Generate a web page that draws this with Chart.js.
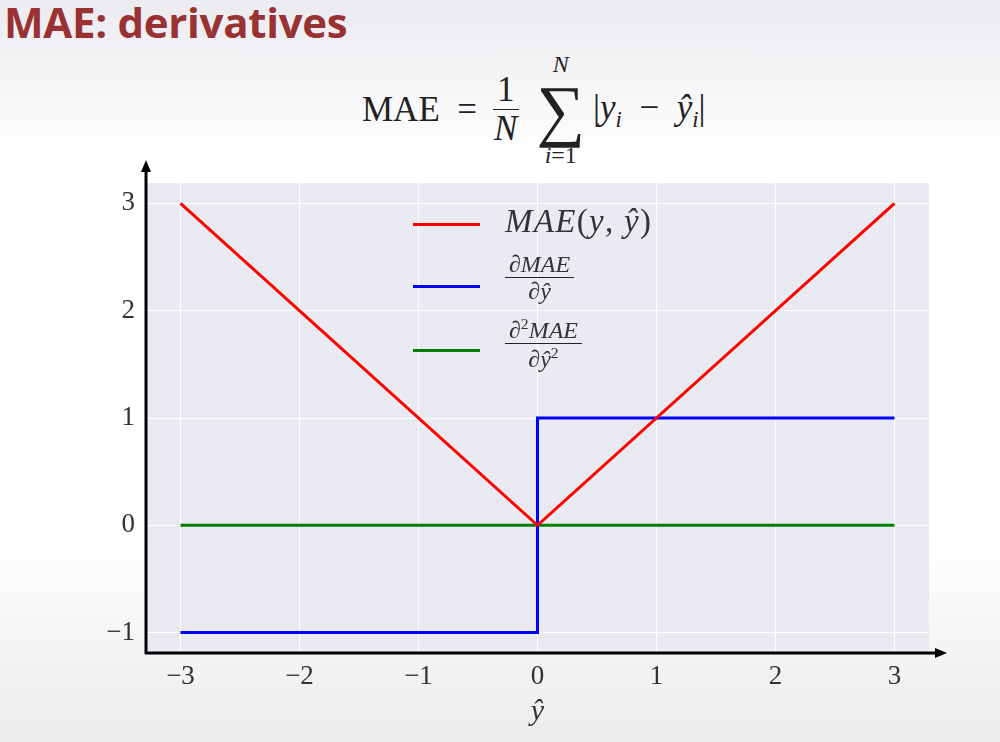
<!DOCTYPE html>
<html>
<head>
<meta charset="utf-8">
<script src="https://cdn.jsdelivr.net/npm/chart.js@4.4.1/dist/chart.umd.min.js"></script>
<style>
    html, body { margin: 0; padding: 0; }
    body {
        width: 1000px; height: 742px; position: relative; overflow: hidden;
        background: linear-gradient(#ebebf0 0%, #f7f7f9 12%, #ffffff 22%, #ffffff 72%, #ececef 100%);
        font-family: "Liberation Serif", "DejaVu Serif", serif;
        color: #222;
    }
    #title {
        position: absolute; left: 4px; top: -7px;
        font-family: "Open Sans", "Noto Sans", sans-serif; font-weight: 700;
        font-size: 42px; color: #993333; letter-spacing: -0.3px;
    }
    #formula {
        position: absolute; left: 362px; top: 48px; height: 124px;
        display: flex; align-items: center; font-size: 35px; white-space: nowrap;
    }
    .frac { display: inline-flex; flex-direction: column; align-items: center; margin: 0 8px; vertical-align: middle; }
    .frac .num { border-bottom: 1.5px solid #222; padding: 0 4px; line-height: 1.05; }
    .frac .den { line-height: 1.1; }
    .sum { display: inline-flex; flex-direction: column; align-items: center; margin: 0 8px 0 10px; }
    .sum .big { font-size: 68px; line-height: 0.95; }
    .sum .lim { font-size: 24px; line-height: 1.1; }
    i { font-style: italic; }
    sub { font-size: 0.65em; }
    #chartbox { position: absolute; left: 0; top: 160px; width: 960px; height: 582px; }
    #legend { position: absolute; left: 413px; top: 200px; }
    .item { position: relative; height: 62px; }
    .swatch { position: absolute; left: 0; width: 67px; height: 3px; }
    .label { position: absolute; left: 92px; white-space: nowrap; color: #333; }
    .label .frac { margin: 0; font-size: 24px; }
</style>
</head>
<body>
<div id="title">MAE: derivatives</div>
<div id="formula">
    <span>MAE&nbsp;&nbsp;=</span>
    <span class="frac" style="margin-left:16px"><span class="num">1</span><span class="den"><i>N</i></span></span>
    <span class="sum"><span class="lim"><i>N</i></span><span class="big">&sum;</span><span class="lim"><i>i</i>=1</span></span>
    <span>|<i>y</i><sub><i>i</i></sub> &nbsp;&minus;&nbsp; <i>ŷ</i><sub><i>i</i></sub>|</span>
</div>
<div id="chartbox"><canvas id="mae-chart"></canvas></div>
<div id="legend">
    <div class="item">
        <div class="swatch" style="top:23px;background:#ff0000"></div>
        <div class="label" style="top:3px;font-size:33px;letter-spacing:1.3px"><i>MAE</i>(<i>y</i>, <i>ŷ</i>)</div>
    </div>
    <div class="item">
        <div class="swatch" style="top:23px;background:#0000ff"></div>
        <div class="label" style="top:-10px"><span class="frac"><span class="num">&part;<i>MAE</i></span><span class="den">&part;<i>ŷ</i></span></span></div>
    </div>
    <div class="item">
        <div class="swatch" style="top:25px;background:#008000"></div>
        <div class="label" style="top:-8px"><span class="frac"><span class="num">&part;<sup style="font-size:0.65em">2</sup><i>MAE</i></span><span class="den">&part;<i>ŷ</i><sup style="font-size:0.65em">2</sup></span></span></div>
    </div>
</div>
<script>
// values
var maeX = [-3, 0, 3]
var maeY = [3, 0, 3]
var d1X = [-3, 0, 0, 3]
var d1Y = [-1, -1, 1, 1]
var d2X = [-3, 3]
var d2Y = [0, 0]
var xTicks = [-3, -2, -1, 0, 1, 2, 3]
var yTicks = [-1, 0, 1, 2, 3]

function toPoints(xs, ys){
    return xs.map(function(x, i){ return {x: x, y: ys[i]} })
}

function fmt(v){
    return v < 0 ? '\u2212' + Math.abs(v) : String(v)
}

const plotBg = {
    id: 'plotBg',
    beforeDraw: function(chart){
        const a = chart.chartArea, ctx = chart.ctx
        ctx.save()
        ctx.fillStyle = '#eaeaf2'
        ctx.fillRect(a.left, a.top, a.right - a.left, a.bottom - a.top)
        ctx.restore()
    }
}

const arrowAxes = {
    id: 'arrowAxes',
    afterDraw: function(chart){
        const a = chart.chartArea, ctx = chart.ctx
        ctx.save()
        ctx.strokeStyle = '#000'
        ctx.fillStyle = '#000'
        ctx.lineWidth = 3
        ctx.beginPath()
        ctx.moveTo(a.left, a.bottom + 1)
        ctx.lineTo(a.left, a.top - 14)
        ctx.moveTo(a.left - 1, a.bottom)
        ctx.lineTo(a.right + 10, a.bottom)
        ctx.stroke()
        ctx.beginPath()
        ctx.moveTo(a.left, a.top - 23)
        ctx.lineTo(a.left - 5, a.top - 11)
        ctx.lineTo(a.left + 5, a.top - 11)
        ctx.closePath()
        ctx.fill()
        ctx.beginPath()
        ctx.moveTo(a.right + 18, a.bottom)
        ctx.lineTo(a.right + 6, a.bottom - 5)
        ctx.lineTo(a.right + 6, a.bottom + 5)
        ctx.closePath()
        ctx.fill()
        ctx.restore()
    }
}

const ctx = document.getElementById('mae-chart').getContext('2d')
const config = {
    type: 'scatter',
    data: {
        datasets: [
            { label: 'MAE', data: toPoints(maeX, maeY), borderColor: '#ff0000', borderWidth: 3, showLine: true, pointRadius: 0 },
            { label: 'dMAE', data: toPoints(d1X, d1Y), borderColor: '#0000ff', borderWidth: 3, showLine: true, pointRadius: 0 },
            { label: 'd2MAE', data: toPoints(d2X, d2Y), borderColor: '#008000', borderWidth: 3, showLine: true, pointRadius: 0 }
        ]
    },
    options: {
        responsive: true,
        maintainAspectRatio: false,
        animation: false,
        layout: { padding: { top: 23, right: 31, left: 0, bottom: 12 } },
        plugins: {
            legend: { display: false },
            tooltip: { enabled: false }
        },
        scales: {
            x: {
                type: 'linear',
                min: -3.29, max: 3.29,
                afterBuildTicks: function(s){ s.ticks = xTicks.map(function(v){ return {value: v} }) },
                afterFit: function(s){ s.height = 77 },
                grid: { color: '#ffffff', lineWidth: 1, drawTicks: false },
                border: { display: false },
                ticks: {
                    padding: 8,
                    color: '#333',
                    font: { family: "'Liberation Serif', serif", size: 27 },
                    callback: function(v){ return fmt(v) }
                },
                title: {
                    display: true, text: 'ŷ', color: '#333', padding: { top: 0, bottom: 0 },
                    font: { family: "'Liberation Serif', serif", size: 30, style: 'italic' }
                }
            },
            y: {
                type: 'linear',
                min: -1.19, max: 3.19,
                afterBuildTicks: function(s){ s.ticks = yTicks.map(function(v){ return {value: v} }) },
                afterFit: function(s){
                    s.width = 146
                    s.paddingTop = 0
                    s.paddingBottom = 0
                },
                grid: { color: '#ffffff', lineWidth: 1, drawTicks: false },
                border: { display: false },
                ticks: {
                    padding: 11,
                    color: '#333',
                    font: { family: "'Liberation Serif', serif", size: 27 },
                    callback: function(v){ return fmt(v) }
                }
            }
        }
    },
    plugins: [plotBg, arrowAxes]
}
const maeChart = new Chart(ctx, config)
</script>
</body>
</html>
